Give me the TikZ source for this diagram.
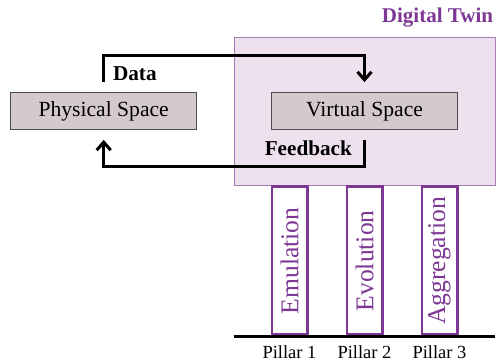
\documentclass[tikz,border=0pt]{standalone}
\usepackage{fontspec}
\setmainfont{Liberation Serif}
\usetikzlibrary{positioning, arrows.meta}

\definecolor{twinfill}{HTML}{EDE1EE}
\definecolor{twinline}{HTML}{A77BB5}
\definecolor{twinpurple}{HTML}{7E3794}
\definecolor{spacefill}{HTML}{D3C9CE}

\begin{document}
\begin{tikzpicture}[
        x=0.5pt, y=0.5pt,
        node distance=18.5pt,
        space/.style={rectangle, draw=black!70, fill=spacefill, minimum width=93pt, minimum height=18.5pt, inner sep=0pt, font=\fontsize{10.8}{13}\selectfont},
        twin/.style={rectangle, draw=twinline, fill=twinfill, thin, minimum width=130.5pt, minimum height=74pt, inner sep=0pt},
        pillar/.style={rectangle, draw=twinpurple, fill=white, line width=1.4pt, minimum width=17.6pt, minimum height=74pt, inner sep=0pt},
        pillartext/.style={rotate=90, text=twinpurple, font=\fontsize{12.8}{15}\selectfont},
        pillarlabel/.style={inner sep=1pt, font=\fontsize{9.25}{11}\selectfont},
        flowlabel/.style={font=\fontsize{10.6}{13}\selectfont\bfseries},
        arrow/.style={-{Straight Barb[length=4pt, width=7pt]}, line width=1.5pt},
        ground/.style={line width=1.5pt}
    ]

    \useasboundingbox (0,0) rectangle (497,363);

    \node[twin] (twin) at (364.5,252) {};
    \node[anchor=base east, inner sep=0pt, text=twinpurple, font=\fontsize{10.5}{13}\selectfont\bfseries] (twinlabel) at ([xshift=-1pt, yshift=7pt]twin.north east) {Digital Twin};

    \node[space] (virtual) at (twin.center) {Virtual Space};
    \node[space, left=37pt of virtual] (physical) {Physical Space};

    % pillars under the twin
    \node[pillar, below=0pt of twin] (pillar2) {};
    \node[pillar, left=of pillar2] (pillar1) {};
    \node[pillar, right=of pillar2] (pillar3) {};

    \node[pillartext] (emulation) at (pillar1.center) {Emulation};
    \node[pillartext] (evolution) at (pillar2.center) {Evolution};
    \node[pillartext] (aggregation) at (pillar3.center) {Aggregation};

    \coordinate (groundL) at (twin.west |- pillar2.south);
    \coordinate (groundR) at (twin.east |- pillar2.south);
    \draw[ground] (groundL) -- (groundR);

    \node[pillarlabel, below=3.3pt of pillar1] (p1label) {Pillar 1};
    \node[pillarlabel, below=3.3pt of pillar2] (p2label) {Pillar 2};
    \node[pillarlabel, below=3.3pt of pillar3] (p3label) {Pillar 3};

    % data and feedback loops
    \draw[arrow] ([yshift=5pt]physical.north) -- ++(0,13.5pt) -| ([yshift=5pt]virtual.north);
    \draw[arrow] ([yshift=-5pt]virtual.south) -- ++(0,-13.5pt) -| ([yshift=-5pt]physical.south);

    \node[flowlabel, anchor=west] (datalabel) at (106,289) {Data};
    \node[flowlabel, anchor=east] (feedbacklabel) at (359,215) {Feedback};

\end{tikzpicture}
\end{document}
